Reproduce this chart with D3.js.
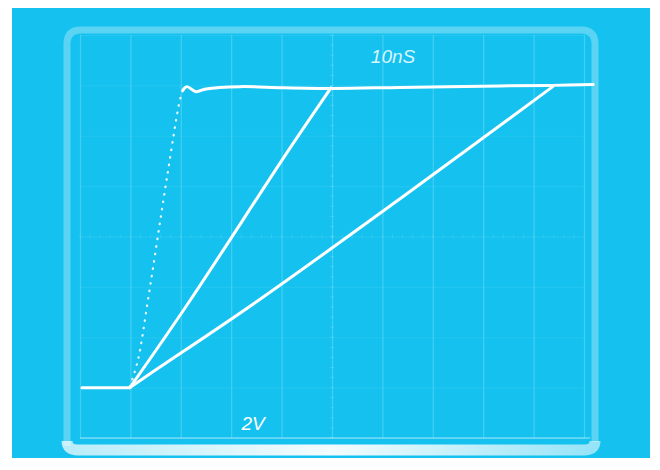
<!DOCTYPE html>
<html>
<head>
<meta charset="utf-8">
<script src="https://cdn.jsdelivr.net/npm/d3@7"></script>
<style>
  html, body { margin: 0; padding: 0; background: #ffffff; }
  svg { display: block; }
</style>
</head>
<body>
<svg id="scope" width="660" height="470"></svg>
<script>
// Oscilloscope capture: 10 ns per division horizontally, 2 V per division vertically.
const timeTicks = [0, 10, 20, 30, 40, 50, 60, 70, 80, 90, 100];   // ns
const voltTicks = [0, 2, 4, 6, 8, 10, 12, 14, 16];                 // V
const timeLabel = "10nS";
const voltLabel = "2V";

// Pre-edge baseline [ns, V]
const baseline = [[0.4, 2.0], [9.9, 2.0]];
// Fast edge (dotted, drawn faintly by the beam) [ns, V]
const fastEdge = [[9.9, 2.05], [11.5, 3.1], [13.5, 5.5], [17.3, 10.4], [19.8, 13.4], [20.4, 13.8]];
// Settled top level with small overshoot [ns, V]
const topLevel = [[20.4, 13.8], [21.2, 13.95], [23.0, 13.75], [25.0, 13.86], [31.7, 13.95],
                  [38.0, 13.92], [50.2, 13.88], [63.5, 13.92], [83.3, 13.98],
                  [93.8, 14.0], [101.8, 14.03]];
// Medium ramp [ns, V]
const rampMid = [[9.9, 2.0], [21.8, 5.45], [41.3, 11.4], [49.8, 13.9]];
// Slow ramp [ns, V]
const rampSlow = [[9.9, 2.0], [13.9, 2.55], [35.3, 5.45], [63.5, 9.5], [93.8, 13.95]];

const svg = d3.select("#scope");

// Photo backdrop
svg.append("rect").attr("x", 12).attr("y", 8).attr("width", 638).attr("height", 450)
  .attr("fill", "#15c2ef");

const x = d3.scaleLinear().domain([0, 100]).range([80, 584]);
const y = d3.scaleLinear().domain([0, 16]).range([438, 35]);

// Graticule
const grid = svg.append("g").attr("class", "graticule");
grid.append("g")
  .attr("transform", `translate(0,${y(0)})`)
  .call(d3.axisBottom(x).tickValues(timeTicks).tickSize(-(y(0) - y(16))).tickFormat(""))
  .call(g => g.select(".domain").remove())
  .call(g => g.selectAll("line").attr("stroke", "#ffffff").attr("stroke-opacity", 0.2).attr("stroke-width", 1.2));
grid.append("g")
  .attr("transform", `translate(${x(0)},0)`)
  .call(d3.axisLeft(y).tickValues(voltTicks).tickSize(-(x(100) - x(0))).tickFormat(""))
  .call(g => g.select(".domain").remove())
  .call(g => g.selectAll("line").attr("stroke", "#ffffff").attr("stroke-opacity", 0.07).attr("stroke-width", 1));

// Bottom graticule edge a bit brighter
grid.append("line")
  .attr("x1", x(0)).attr("x2", x(100) + 6).attr("y1", y(0)).attr("y2", y(0))
  .attr("stroke", "#ffffff").attr("stroke-opacity", 0.4).attr("stroke-width", 1.5);

// Centre-line minor ticks
const minor = d3.range(0, 100.01, 2);
grid.append("g").selectAll("line").data(minor).join("line")
  .attr("x1", d => x(d)).attr("x2", d => x(d))
  .attr("y1", y(8) - 2).attr("y2", y(8) + 2)
  .attr("stroke", "#ffffff").attr("stroke-opacity", 0.1);
const minorV = d3.range(0, 16.01, 0.4);
grid.append("g").selectAll("line").data(minorV).join("line")
  .attr("x1", x(50) - 2).attr("x2", x(50) + 2)
  .attr("y1", d => y(d)).attr("y2", d => y(d))
  .attr("stroke", "#ffffff").attr("stroke-opacity", 0.14);

// Bezel of the screen
const bezel = svg.append("g");
bezel.append("path")
  .attr("d", "M67,446 L67,44 Q67,30 81,30 L581,30 Q595,30 595,44 L595,442")
  .attr("fill", "none").attr("stroke", "#ffffff").attr("stroke-opacity", 0.3).attr("stroke-width", 7);
const bottomGrad = svg.append("defs").append("linearGradient").attr("id", "bottomGlow");
bottomGrad.append("stop").attr("offset", "0%").attr("stop-color", "#ffffff").attr("stop-opacity", 0.7);
bottomGrad.append("stop").attr("offset", "50%").attr("stop-color", "#ffffff").attr("stop-opacity", 0.95);
bottomGrad.append("stop").attr("offset", "100%").attr("stop-color", "#ffffff").attr("stop-opacity", 0.55);
bezel.append("path")
  .attr("d", "M67,441 Q67,450 78,450 L584,450 Q595,450 595,441")
  .attr("fill", "none").attr("stroke", "url(#bottomGlow)").attr("stroke-width", 11);

// Traces
const line = d3.line().x(d => x(d[0])).y(d => y(d[1]));
const lineSmooth = d3.line().x(d => x(d[0])).y(d => y(d[1])).curve(d3.curveCatmullRom);
const traces = svg.append("g").attr("fill", "none").attr("stroke", "#ffffff")
  .attr("stroke-linecap", "round").attr("stroke-linejoin", "round");

traces.append("path").datum(baseline).attr("d", line).attr("stroke-width", 3);
traces.append("path").datum(topLevel).attr("d", lineSmooth).attr("stroke-width", 3);
traces.append("path").datum(rampMid).attr("d", lineSmooth).attr("stroke-width", 3);
traces.append("path").datum(rampSlow).attr("d", lineSmooth).attr("stroke-width", 3);
traces.append("path").datum(fastEdge).attr("d", lineSmooth)
  .attr("stroke-width", 2.2).attr("stroke-dasharray", "0.5,7").attr("stroke-opacity", 0.9);

// Scale readouts
svg.append("text")
  .attr("x", 393).attr("y", 63)
  .attr("text-anchor", "middle")
  .attr("font-family", "Liberation Sans, DejaVu Sans, sans-serif")
  .attr("font-style", "italic")
  .attr("font-size", 19)
  .attr("fill", "#ffffff").attr("fill-opacity", 0.85)
  .text(timeLabel);
svg.append("text")
  .attr("x", 253).attr("y", 430)
  .attr("text-anchor", "middle")
  .attr("font-family", "Liberation Sans Narrow, Liberation Sans, sans-serif")
  .attr("font-style", "italic")
  .attr("font-size", 19)
  .attr("fill", "#ffffff")
  .text(voltLabel);
</script>
</body>
</html>
